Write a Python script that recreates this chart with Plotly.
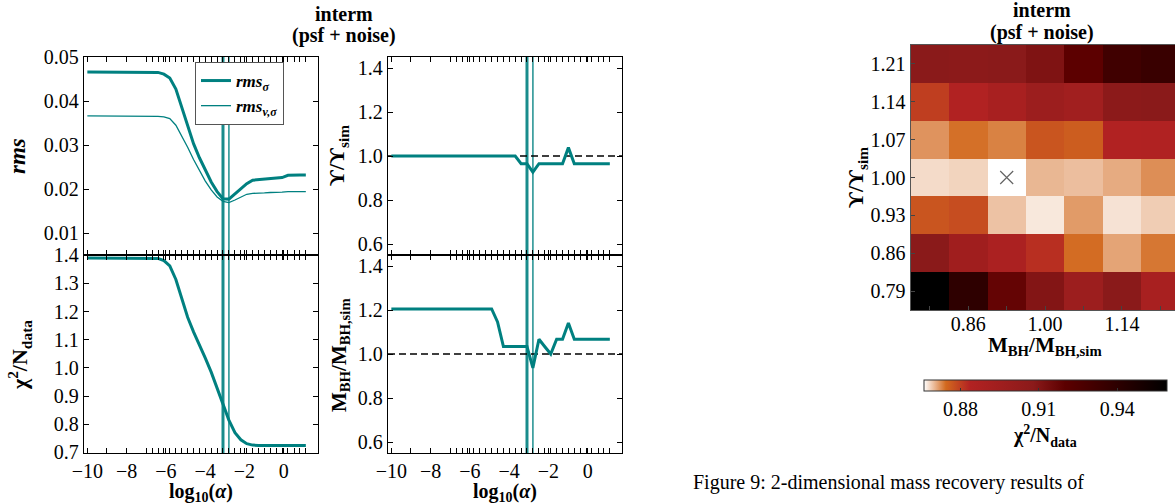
import plotly.graph_objects as go

W, H = 1175, 504

# ---------------- data ----------------
log_alpha = [-10, -9, -8, -7.00, -6.70, -6.40, -6.10, -5.80, -5.49, -5.19, -4.89, -4.59,
             -4.29, -3.99, -3.69, -3.39, -3.09, -2.79, -2.48, -2.18, -1.88, -1.58, -1.28,
             -0.98, -0.68, -0.38, -0.08, 0.22, 0.53, 0.83, 1.13]

rms_sigma = [0.0467, 0.0467, 0.0467, 0.0467, 0.0467, 0.0466, 0.0462, 0.0453, 0.0428, 0.0388,
             0.0343, 0.0304, 0.0272, 0.0244, 0.0217, 0.0195, 0.0179, 0.0178, 0.0190, 0.0203,
             0.0213, 0.0221, 0.0222, 0.0224, 0.0225, 0.0226, 0.0227, 0.0232, 0.0233, 0.0233,
             0.0233]

rms_v_sigma = [0.0367, 0.0367, 0.0367, 0.0367, 0.0367, 0.0366, 0.0365, 0.0361, 0.0346, 0.0322,
               0.0296, 0.0268, 0.0242, 0.0219, 0.0199, 0.0183, 0.0173, 0.0170, 0.0176, 0.0183,
               0.0189, 0.0191, 0.0191, 0.0192, 0.0193, 0.0193, 0.0194, 0.0195, 0.0195, 0.0195,
               0.0195]

chi2_ndata = [1.390, 1.390, 1.390, 1.390, 1.390, 1.389, 1.381, 1.362, 1.314, 1.249,
              1.180, 1.128, 1.084, 1.035, 0.985, 0.930, 0.872, 0.815, 0.770, 0.745,
              0.731, 0.726, 0.725, 0.725, 0.725, 0.725, 0.725, 0.725, 0.725, 0.725,
              0.725]

ups_ratio = [1.0, 1.0, 1.0, 1.0, 1.0, 1.0, 1.0, 1.0, 1.0, 1.0,
             1.0, 1.0, 1.0, 1.0, 1.0, 0.965, 0.965, 0.927, 0.965, 0.965,
             0.965, 0.965, 0.965, 1.038, 0.965, 0.965, 0.965, 0.965, 0.965, 0.965,
             0.965]

mbh_ratio = [1.205, 1.205, 1.205, 1.205, 1.205, 1.205, 1.205, 1.205, 1.205, 1.205,
             1.205, 1.146, 1.034, 1.034, 1.034, 1.034, 1.034, 0.937, 1.067, 1.033,
             1.000, 1.067, 1.067, 1.141, 1.067, 1.067, 1.067, 1.067, 1.067, 1.067,
             1.067]

best_alpha = [-3.09, -2.79]          # thick, thin vertical markers
reference_ratio = 1.0                # dashed reference line

x_label_ticks = [-10, -8, -6, -4, -2, 0]
x_label_text = ["\u221210", "\u22128", "\u22126", "\u22124", "\u22122", "0"]
rms_ticks = [0.01, 0.02, 0.03, 0.04, 0.05]
chi2_ticks = [0.7, 0.8, 0.9, 1.0, 1.1, 1.2, 1.3, 1.4]
ratio_ticks = [0.6, 0.8, 1.0, 1.2, 1.4]

# heatmap
m_grid = [0.79, 0.86, 0.93, 1.00, 1.07, 1.14, 1.21]
u_grid = [0.79, 0.86, 0.93, 1.00, 1.07, 1.14, 1.21]
m_tick_labels = ["", "0.86", "", "1.00", "", "1.14", ""]
u_tick_labels = ["0.79", "0.86", "0.93", "1.00", "1.07", "1.14", "1.21"]
chi2_grid = [  # rows: upsilon 0.79 -> 1.21 ; cols: M_BH 0.79 -> 1.21
    [0.959, 0.9395, 0.918, 0.910, 0.897, 0.908, 0.890],
    [0.908, 0.895, 0.888, 0.882, 0.8742, 0.8711, 0.8736],
    [0.877, 0.878, 0.8694, 0.8673, 0.8716, 0.8676, 0.8688],
    [0.868, 0.8684, 0.866, 0.870, 0.8696, 0.8707, 0.8723],
    [0.872, 0.874, 0.873, 0.877, 0.876, 0.884, 0.885],
    [0.880, 0.884, 0.890, 0.897, 0.894, 0.907, 0.908],
    [0.908, 0.907, 0.908, 0.911, 0.920, 0.932, 0.935],
]
best_m = [0.93]
best_u = [1.00]
cbar_ticks = [0.88, 0.91, 0.94]
heat_scale = [[0.0, "#ffffff"], [0.09, "#d2691e"], [0.19, "#b22222"],
              [0.45, "#8b1a1a"], [0.58, "#5c0000"], [1.0, "#000000"]]

# ---------------- styling ----------------
TEAL = "#008080"
FONT = "Liberation Serif"
TICKF = dict(family=FONT, size=20, color="black")


def px_x(p):
    return p / W


def px_y(p):
    return 1 - p / H


LX = [px_x(84), px_x(318)]
RX = [px_x(388), px_x(622)]
TY = [px_y(255), px_y(57)]
BY = [px_y(453), px_y(255)]

all_xticks = sorted(set(x_label_ticks) | set(log_alpha))
all_xtext = [x_label_text[x_label_ticks.index(v)] if v in x_label_ticks else "" for v in all_xticks]

fig = go.Figure()

# line panels
fig.add_trace(go.Scatter(x=log_alpha, y=rms_sigma, mode="lines", line=dict(color=TEAL, width=3),
                         name="<b><i>rms<sub>σ</sub></i></b>", xaxis="x", yaxis="y"))
fig.add_trace(go.Scatter(x=log_alpha, y=rms_v_sigma, mode="lines", line=dict(color=TEAL, width=1.3),
                         name="<b><i>rms<sub>v,σ</sub></i></b>", xaxis="x", yaxis="y"))
fig.add_trace(go.Scatter(x=log_alpha, y=chi2_ndata, mode="lines", line=dict(color=TEAL, width=3),
                         showlegend=False, xaxis="x3", yaxis="y3"))
fig.add_trace(go.Scatter(x=log_alpha, y=ups_ratio, mode="lines", line=dict(color=TEAL, width=3),
                         showlegend=False, xaxis="x2", yaxis="y2"))
fig.add_trace(go.Scatter(x=log_alpha, y=mbh_ratio, mode="lines", line=dict(color=TEAL, width=3),
                         showlegend=False, xaxis="x4", yaxis="y4"))

# heatmap
fig.add_trace(go.Heatmap(
    x=m_grid, y=u_grid, z=chi2_grid, colorscale=heat_scale,
    zmin=min(min(r) for r in chi2_grid), zmax=max(max(r) for r in chi2_grid),
    xaxis="x5", yaxis="y5", showscale=True,
    colorbar=dict(orientation="h", x=(924 + 1166.7) / 2 / W, xanchor="center",
                  y=px_y(379.5), yanchor="top", len=243, lenmode="pixels",
                  thickness=11, xpad=0, ypad=0,
                  outlinewidth=1, outlinecolor="#333",
                  tickvals=cbar_ticks, ticktext=[f"{v:.2f}" for v in cbar_ticks],
                  ticks="inside", ticklen=3, tickcolor="#333",
                  tickfont=TICKF,
                  title=dict(text="<b>χ<sup>2</sup>/N<sub>data</sub></b>", side="bottom",
                             font=dict(family=FONT, size=20, color="black"))),
))
fig.add_trace(go.Scatter(x=best_m, y=best_u, mode="markers",
                         marker=dict(symbol="x-thin", size=13, line=dict(color="#666", width=1.2)),
                         showlegend=False, xaxis="x5", yaxis="y5"))

XR = [-10.17, 1.75]


def xaxis(domain, anchor, labels):
    return dict(domain=domain, anchor=anchor, range=XR, tickvals=all_xticks,
                ticktext=all_xtext if labels else [""] * len(all_xticks),
                showticklabels=labels, ticks="inside", ticklen=5, tickwidth=1, tickcolor="black",
                showline=True, linecolor="black", linewidth=1.3, mirror="ticks",
                showgrid=False, zeroline=False, tickfont=TICKF)


def yaxis(domain, anchor, rng, vals, fmt):
    return dict(domain=domain, anchor=anchor, range=rng, tickvals=vals,
                ticktext=[fmt.format(v) for v in vals],
                ticks="inside", ticklen=5, tickwidth=1, tickcolor="black",
                showline=True, linecolor="black", linewidth=1.3, mirror="ticks",
                showgrid=False, zeroline=False, tickfont=TICKF)


shapes = []
for xr in ["x", "x2", "x3", "x4"]:
    yr = xr.replace("x", "y")
    shapes.append(dict(type="line", xref=xr, yref=yr + " domain", x0=best_alpha[0], x1=best_alpha[0],
                       y0=0, y1=1, line=dict(color="rgba(0,128,128,0.9)", width=3), layer="below"))
    shapes.append(dict(type="line", xref=xr, yref=yr + " domain", x0=best_alpha[1], x1=best_alpha[1],
                       y0=0, y1=1, line=dict(color="rgba(0,128,128,0.75)", width=1.8), layer="below"))
for xr in ["x2", "x4"]:
    yr = xr.replace("x", "y")
    shapes.append(dict(type="line", xref=xr + " domain", yref=yr, x0=0, x1=1,
                       y0=reference_ratio, y1=reference_ratio,
                       line=dict(color="black", width=1.5, dash="7px,4px"), layer="below"))


def ann(text, x, y, size=20, angle=0, anchor="center"):
    return dict(text=text, x=px_x(x), y=px_y(y), xref="paper", yref="paper",
                showarrow=False, textangle=angle, xanchor=anchor, yanchor="middle",
                font=dict(family=FONT, size=size, color="black"))


UPS = "\u03d2"
annotations = [
    ann("<b>interm</b>", 344, 14, 20),
    ann("<b>(psf + noise)</b>", 344, 36, 20),
    ann("<b>interm</b>", 1042, 10, 20),
    ann("<b>(psf + noise)</b>", 1042, 32, 20),
    ann("<b><i>rms</i></b>", 17, 156, 23, -90),
    ann("<b>χ<sup>2</sup>/N<sub>data</sub></b>", 19, 355, 22, -90),
    ann(f"<b>{UPS}/{UPS}<sub>sim</sub></b>", 338, 156, 22, -90),
    ann("<b>M<sub>BH</sub>/M<sub>BH,sim</sub></b>", 340, 355, 21, -90),
    ann("<b>log<sub>10</sub>(<i>α</i>)</b>", 201, 492, 20),
    ann("<b>log<sub>10</sub>(<i>α</i>)</b>", 505, 492, 20),
    ann(f"<b>{UPS}/{UPS}<sub>sim</sub></b>", 857, 178, 22, -90),
    ann("<b>M<sub>BH</sub>/M<sub>BH,sim</sub></b>", 1045, 346, 21),
    ann("Figure 9: 2-dimensional mass recovery results of", 691, 482, 20, 0, "left"),
]

fig.update_layout(
    width=W, height=H, margin=dict(l=0, r=0, t=0, b=0, autoexpand=False),
    paper_bgcolor="white", plot_bgcolor="white",
    font=dict(family=FONT, size=20, color="black"),
    xaxis=xaxis(LX, "y", False),
    yaxis=yaxis(TY, "x", [0.0051, 0.0501], rms_ticks, "{:.2f}"),
    xaxis2=xaxis(RX, "y2", False),
    yaxis2=yaxis(TY, "x2", [0.55, 1.45], ratio_ticks, "{:.1f}"),
    xaxis3=xaxis(LX, "y3", True),
    yaxis3=yaxis(BY, "x3", [0.698, 1.401], chi2_ticks, "{:.1f}"),
    xaxis4=xaxis(RX, "y4", True),
    yaxis4=yaxis(BY, "x4", [0.55, 1.45], ratio_ticks, "{:.1f}"),
    xaxis5=dict(domain=[px_x(910.7), 1.0], anchor="y5", range=[0.755, 1.2368],
                tickvals=m_grid, ticktext=m_tick_labels, ticks="inside", ticklen=4,
                tickcolor="#444", showline=True, linecolor="#555", linewidth=1.2, mirror=True,
                showgrid=False, zeroline=False, tickfont=TICKF, ticklabelstandoff=-4),
    yaxis5=dict(domain=[px_y(310), px_y(45)], anchor="x5", range=[0.755, 1.245],
                tickvals=u_grid, ticktext=u_tick_labels, ticks="inside", ticklen=4,
                tickcolor="#444", showline=True, linecolor="#555", linewidth=1.2, mirror=False,
                showgrid=False, zeroline=False, tickfont=TICKF),
    legend=dict(x=px_x(195), y=px_y(62), xanchor="left", yanchor="top",
                bgcolor="white", bordercolor="#555", borderwidth=1,
                font=dict(family=FONT, size=17, color="black"), tracegroupgap=0,
                entrywidth=75, entrywidthmode="pixels"),
    shapes=shapes,
    annotations=annotations,
)

fig.write_html("out.html", config={"displayModeBar": False},
               post_script="document.body.style.margin='0';document.body.style.overflow='hidden';")
